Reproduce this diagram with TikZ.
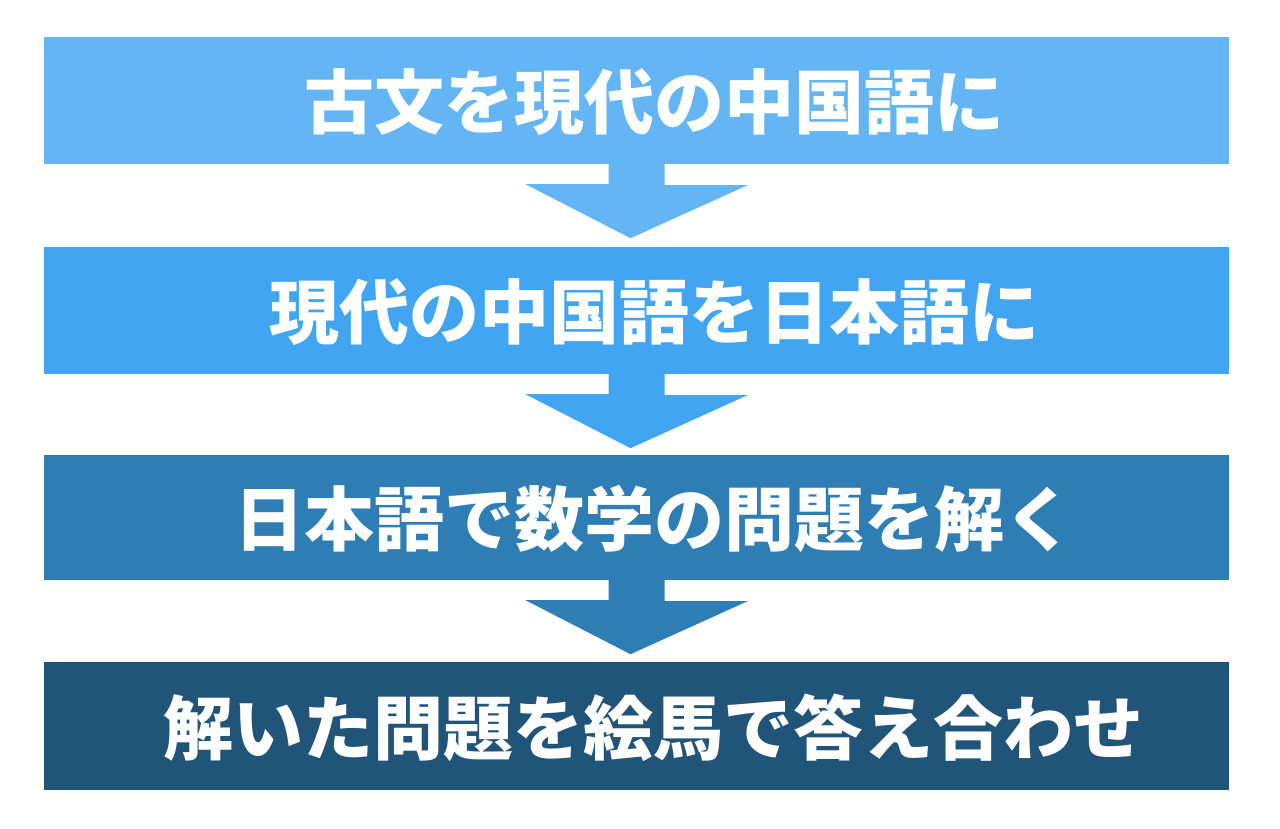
\documentclass[tikz,border=0pt]{standalone}
\usepackage{fontspec}
\newfontfamily\cjk{Noto Sans CJK JP}
\usetikzlibrary{positioning}
\usetikzlibrary{calc}
\definecolor{stepA}{HTML}{64B5F3}
\definecolor{stepB}{HTML}{42A5F1}
\definecolor{stepC}{HTML}{2E7DB5}
\definecolor{stepD}{HTML}{215479}
\tikzset{stepbox/.style = {rectangle, inner sep = 0, minimum width = 1185, minimum height = 127}}
\tikzset{steptext/.style = {text = white, font = \cjk\bfseries\fontsize{70}{82}\selectfont, inner sep = 0}}
\newcommand{\steparrow}[2]{%
  \fill[#2] ($(#1.south)+(-28,0)$) -- ($(#1.south)+(-28,20)$) -- ($(#1.south)+(-111,20)$)
    -- ($(#1.south)+(-6,74)$) -- ($(#1.south)+(111,21)$) -- ($(#1.south)+(28,21)$)
    -- ($(#1.south)+(28,0)$) -- cycle;}
\begin{document}
\begin{tikzpicture}[x=1pt, y=-1pt]
  \useasboundingbox[fill=white] (0,0) rectangle (1280,828);
  \node[stepbox, fill=stepA] (b1) at (636.5,100.5) {};
  \node[stepbox, fill=stepB] (b2) at (636.5,310.5) {};
  \node[stepbox, fill=stepC, minimum height=125] (b3) at (636.5,517.5) {};
  \node[stepbox, fill=stepD, minimum height=128] (b4) at (636.5,726) {};
  \node[steptext] (t1) at (654,102) {古文を現代の中国語に};
  \node[steptext] (t2) at (654,312) {現代の中国語を日本語に};
  \node[steptext] (t3) at (654,519) {日本語で数学の問題を解く};
  \node[steptext] (t4) at (653,728) {解いた問題を絵馬で答え合わせ};
  \steparrow{b1}{stepA}
  \steparrow{b2}{stepB}
  \steparrow{b3}{stepC}
\end{tikzpicture}
\end{document}
